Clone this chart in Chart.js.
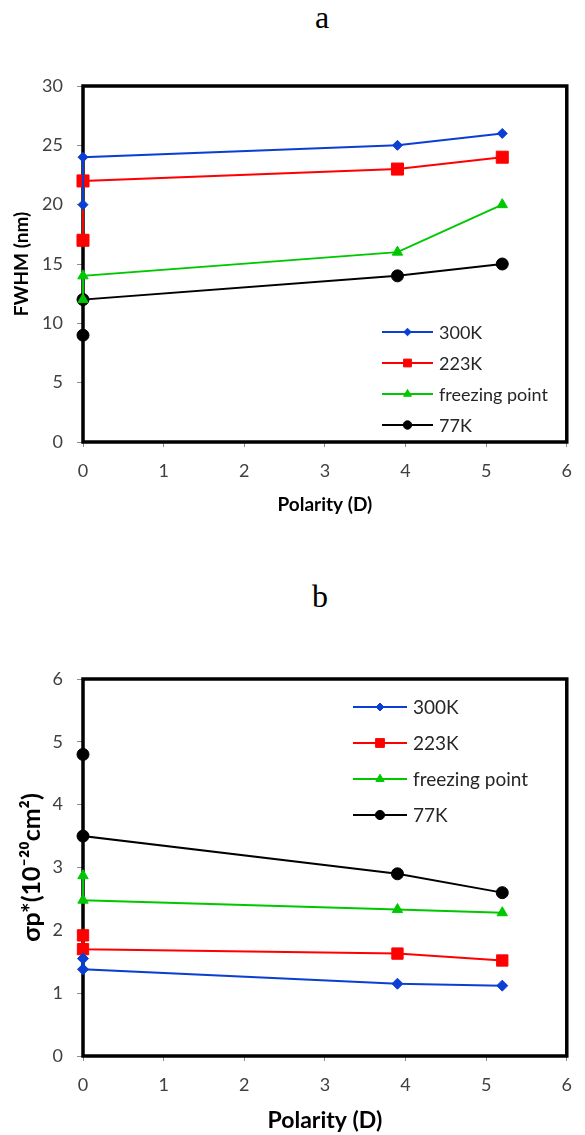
<!DOCTYPE html>
<html>
<head>
<meta charset="utf-8">
<script src="https://cdn.jsdelivr.net/npm/chart.js@4.4.0/dist/chart.umd.min.js"></script>
<style>
html,body{margin:0;padding:0;background:#fff;width:585px;height:1135px;overflow:hidden;}
.box{position:absolute;left:0;width:585px;}
.lbl{position:absolute;font-family:"Liberation Serif","Times New Roman",serif;font-size:32px;line-height:1;color:#000;text-align:center;width:100px;}
</style>
</head>
<body>
<div class="lbl" style="left:272px;top:1px;">a</div>
<div class="box" style="top:0;height:530px;"><canvas id="c1" width="585" height="530"></canvas></div>
<div class="lbl" style="left:270px;top:580px;">b</div>
<div class="box" style="top:560px;height:575px;"><canvas id="c2" width="585" height="575"></canvas></div>
<script>
// ---- data ----
const seriesNames = ['300K', '223K', 'freezing point', '77K'];
const polarity = [0, 0, 3.9, 5.2];
const fwhm300 = [20, 24, 25, 26];
const fwhm223 = [17, 22, 23, 24];
const fwhmFreeze = [12, 14, 16, 20];
const fwhm77 = [9, 12, 14, 15];
const sigma300 = [1.55, 1.38, 1.15, 1.12];
const sigma223 = [1.92, 1.70, 1.63, 1.52];
const sigmaFreeze = [2.87, 2.48, 2.33, 2.28];
const sigma77 = [4.8, 3.5, 2.9, 2.6];
const xTitle = 'Polarity (D)';
const yTitleA = 'FWHM (nm)';
const yTitleB = 'σp*(10⁻²⁰cm²)';

const colors = ['#0b3fd4', '#ff0000', '#00c800', '#000000'];
const styles = ['rectRot', 'rect', 'triangle', 'circle'];

function pts(xs, ys) { return xs.map((x, i) => ({x: x, y: ys[i]})); }

const FONT = 'Lato, "Open Sans", "DejaVu Sans", sans-serif';

const framePlugin = {
  id: 'frame',
  beforeDatasetsDraw(chart) {
    const a = chart.chartArea, ctx = chart.ctx;
    ctx.save();
    ctx.strokeStyle = '#000';
    ctx.lineWidth = 3.5;
    ctx.strokeRect(a.left, a.top, a.right - a.left, a.bottom - a.top);
    ctx.restore();
  }
};

const legendPlugin = {
  id: 'boxLegend',
  afterDraw(chart, args, o) {
    const ctx = chart.ctx;
    ctx.save();
    chart.data.datasets.forEach((ds, i) => {
      const y = o.y + i * o.gap;
      ctx.strokeStyle = ds.borderColor;
      ctx.fillStyle = ds.borderColor;
      ctx.lineWidth = 2;
      ctx.beginPath(); ctx.moveTo(o.x1, y); ctx.lineTo(o.x2, y); ctx.stroke();
      ctx.lineWidth = 1;
      Chart.helpers.drawPoint(ctx, {pointStyle: ds.pointStyle, rotation: 0, radius: o.r[i], borderWidth: 1}, (o.x1 + o.x2) / 2, y);
      ctx.fillStyle = '#262626';
      ctx.font = o.fontSize + 'px ' + FONT;
      ctx.textBaseline = 'middle';
      ctx.textAlign = 'left';
      ctx.fillText(ds.label, o.tx, y + 1);
    });
    ctx.restore();
  }
};

function makeDatasets(seriesY, radii) {
  return seriesY.map((ys, i) => ({
    label: seriesNames[i],
    data: pts(polarity, ys),
    borderColor: colors[i],
    backgroundColor: colors[i],
    pointBackgroundColor: colors[i],
    pointBorderColor: colors[i],
    pointStyle: styles[i],
    pointRadius: radii[i],
    pointBorderWidth: 1,
    borderWidth: 2,
    tension: 0,
    clip: false
  }));
}

function makeChart(id, cfg) {
  return new Chart(document.getElementById(id), {
    type: 'line',
    data: {datasets: makeDatasets(cfg.series, cfg.radii)},
    plugins: [framePlugin, legendPlugin],
    options: {
      responsive: false,
      animation: false,
      events: [],
      layout: {padding: {top: cfg.padTop, right: cfg.padRight, left: 0, bottom: 0}},
      plugins: {
        legend: {display: false},
        tooltip: {enabled: false},
        boxLegend: cfg.legend
      },
      scales: {
        x: {
          type: 'linear', min: 0, max: 6,
          ticks: {stepSize: 1, color: '#404040', font: {family: FONT, size: cfg.tickSize}, padding: cfg.xTickPad},
          grid: {display: true, drawOnChartArea: false, drawTicks: true, tickLength: 5, color: '#8c8c8c'},
          border: {display: false},
          title: {display: true, text: xTitle, color: '#000', font: {family: FONT, size: cfg.xTitleSize, weight: 'bold'}, padding: {top: 0, bottom: cfg.xTitlePad}},
          afterFit: s => { s.height = cfg.xHeight; }
        },
        y: {
          type: 'linear', min: 0, max: cfg.yMax,
          ticks: {stepSize: cfg.yStep, color: '#404040', font: {family: FONT, size: cfg.tickSize}, padding: 14},
          grid: {display: true, drawOnChartArea: false, drawTicks: true, tickLength: 6, color: '#8c8c8c'},
          border: {display: false},
          title: {display: true, text: cfg.yTitle, color: '#000', font: {family: FONT, size: cfg.yTitleSize, weight: 'bold'}, padding: {top: cfg.yTitlePad, bottom: 0}},
          afterFit: s => { s.width = 83; }
        }
      }
    }
  });
}

makeChart('c1', {
  series: [fwhm300, fwhm223, fwhmFreeze, fwhm77],
  radii: [5, 8.5, 6, 6],
  padTop: 86, padRight: 8,
  xHeight: 88, yMax: 30, yStep: 5,
  tickSize: 18, xTickPad: 13,
  xTitleSize: 19, xTitlePad: 14,
  yTitle: yTitleA, yTitleSize: 19, yTitlePad: 10,
  legend: {x1: 382, x2: 433, tx: 439, y: 332, gap: 31, r: [3.8, 5.5, 4.5, 4.2], fontSize: 18}
});

makeChart('c2', {
  series: [sigma300, sigma223, sigmaFreeze, sigma77],
  radii: [5.5, 8, 6, 6],
  padTop: 119, padRight: 18,
  xHeight: 79, yMax: 6, yStep: 1,
  tickSize: 18, xTickPad: 13,
  xTitleSize: 23, xTitlePad: 1,
  yTitle: yTitleB, yTitleSize: 25, yTitlePad: 17,
  legend: {x1: 353, x2: 407, tx: 413, y: 147, gap: 36, r: [4, 6.2, 4.8, 4.6], fontSize: 19}
});
</script>
</body>
</html>
